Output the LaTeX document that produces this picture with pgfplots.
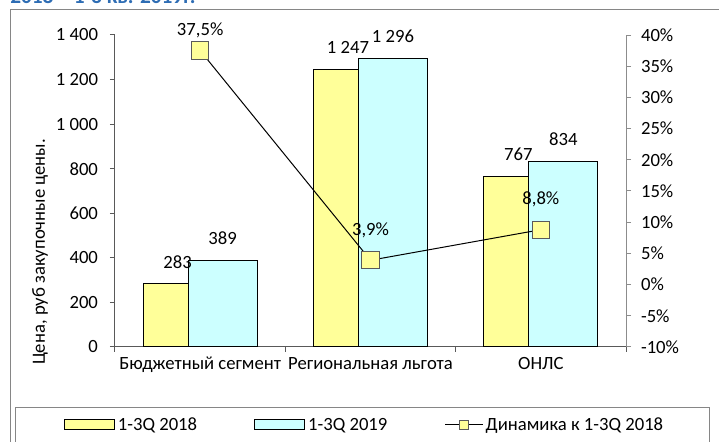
\documentclass[border=0pt]{standalone}
\usepackage{fontspec}
\setmainfont{Carlito}
\usepackage{pgfplots}
\pgfplotsset{compat=1.18}
\usepackage{pgfplotstable}
\definecolor{yel}{HTML}{FFFF99}
\definecolor{cya}{HTML}{CCFFFF}
\definecolor{axgray}{HTML}{595959}
\definecolor{axgray2}{HTML}{8C8C8C}
\definecolor{framegray}{HTML}{868686}
\definecolor{markgray}{HTML}{5A5A5A}
\definecolor{titleblue}{HTML}{2E6DB4}

\pgfplotstableread{
x y
-0.132 283
0.868 1247
1.868 767
}\tabA
\pgfplotstableread{
x y
0.132 389
1.132 1296
2.132 834
}\tabB
\pgfplotstableread{
x y sh
0 37.5 15
1 3.9 22.5
2 8.8 23
}\tabC

\newcommand{\fs}{\fontsize{14}{17}\selectfont}

\begin{document}
\begin{tikzpicture}
\useasboundingbox (0,0) rectangle (539.25pt,331.5pt);
\node[anchor=base west, text=titleblue, font=\bfseries\fontsize{16}{18}\selectfont, inner sep=0] at (7.5pt,328.5pt) {2018 – 1-3 кв. 2019г.};
\draw[framegray, line width=0.75pt] (545pt,324pt) -- (7.5pt,324pt) -- (7.5pt,-5pt);
\draw[framegray, line width=0.75pt] (531.75pt,-5pt) -- (531.75pt,25.5pt) -- (11.25pt,25.5pt) -- (11.25pt,-5pt);

\begin{axis}[
  at={(86.25pt,71.25pt)}, anchor=south west, scale only axis,
  width=383.25pt, height=234pt,
  xmin=-0.5, xmax=2.5, ymin=0, ymax=1400,
  axis x line*=bottom, axis y line*=left,
  ytick={0,200,...,1400},
  xtick={0,1,2},
  xticklabels={Бюджетный сегмент, Региональная льгота, ОНЛС},
  minor xtick={-0.5,0.5,1.5,2.5},
  major x tick style={draw=none},
  tick align=outside, major tick length=3.75pt, minor tick length=3.75pt,
  axis line style={axgray, line width=0.75pt},
  tick style={axgray, line width=0.75pt},
  ticklabel style={font=\fs, text=black},
  yticklabel style={xshift=-5.5pt},
  xticklabel style={yshift=-0.5pt},
  ylabel={Цена, руб закупочные цены.},
  every axis y label/.style={at={(axis description cs:-0.1468,0.3045)}, rotate=90, anchor=center, font=\fs},
  /pgf/number format/1000 sep={\ },
  /pgf/number format/assume math mode=true,
  clip=false,
]
\addplot[ybar, bar width=0.405, bar shift=0pt, fill=yel, draw=black, line width=0.75pt,
  nodes near coords,
  every node near coord/.append style={anchor=center, yshift=16pt, font=\fs, text=black}]
  table[x=x,y=y]{\tabA};
\addplot[ybar, bar width=0.405, bar shift=0pt, fill=cya, draw=black, line width=0.75pt,
  nodes near coords,
  every node near coord/.append style={anchor=center, yshift=16.5pt, font=\fs, text=black}]
  table[x=x,y=y]{\tabB};
\end{axis}

\begin{axis}[
  at={(86.25pt,71.25pt)}, anchor=south west, scale only axis,
  width=383.25pt, height=234pt,
  xmin=-0.5, xmax=2.5, ymin=-10, ymax=40,
  axis y line*=right, axis x line=none,
  ytick={-10,-5,...,40},
  yticklabel={\pgfmathprintnumber{\tick}\%},
  tick align=outside, major tick length=3.75pt,
  axis line style={axgray2, line width=0.75pt},
  tick style={axgray2, line width=0.75pt},
  ticklabel style={font=\fs, text=black},
  yticklabel style={xshift=4pt},
  /pgf/number format/assume math mode=true,
  clip=false,
  legend style={at={(axis description cs:0.4893,-0.25)}, anchor=center, draw=none, fill=none,
    font=\fs, /tikz/every even column/.append style={column sep=41pt}},
  legend columns=3,
  legend cell align=left,
]
\addlegendimage{legend image code/.code={\draw[fill=yel,draw=black,line width=0.75pt] (0pt,-3.75pt) rectangle (37.5pt,3.75pt);}}
\addlegendentry{1-3Q 2018}
\addlegendimage{legend image code/.code={\draw[fill=cya,draw=black,line width=0.75pt] (0pt,-3.75pt) rectangle (37.5pt,3.75pt);}}
\addlegendentry{1-3Q 2019}
\addplot[black, line width=0.75pt, mark=square*, mark size=6.5pt,
  mark options={fill=yel, draw=markgray, line width=0.75pt},
  visualization depends on={\thisrow{sh}\as\sh},
  nodes near coords={\pgfmathprintnumber[fixed,fixed zerofill,precision=1,use comma]{\pgfplotspointmeta}\%},
  every node near coord/.append style={anchor=center, yshift=\sh pt, font=\fs, text=black},
  legend image code/.code={\draw[black,line width=0.75pt] (0pt,0pt) -- (28pt,0pt); \draw[fill=yel,draw=markgray,line width=0.75pt] (10.6pt,-3.4pt) rectangle (17.4pt,3.4pt);}]
  table[x=x,y=y]{\tabC};
\addlegendentry{Динамика к 1-3Q 2018}
\end{axis}
\end{tikzpicture}
\end{document}
